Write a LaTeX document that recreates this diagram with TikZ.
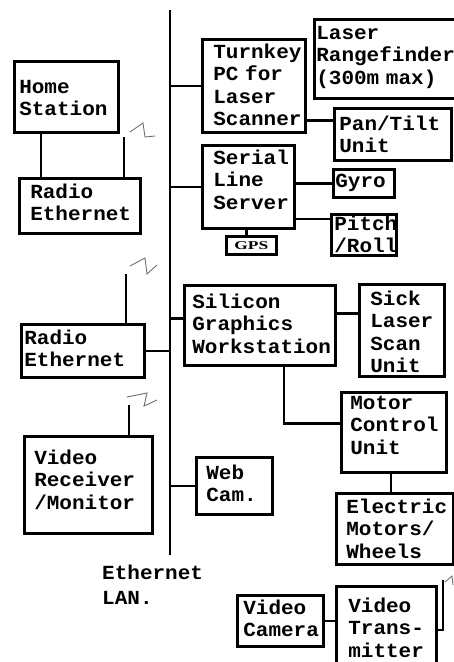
\documentclass[tikz,border=0pt]{standalone}
\usepackage{fontspec}
\newfontfamily\boxfont[FakeStretch=1.05]{Liberation Mono}
\newfontfamily\gpsfont{Liberation Serif}
\usetikzlibrary{calc}
\definecolor{Wave}{HTML}{6E6E6E}
\hyphenpenalty=10000
\exhyphenpenalty=10000

\begin{document}
\begin{tikzpicture}[x=1pt,y=-1pt,
  unit/.style={draw,line width=2.6pt,anchor=north west,inner ysep=0pt,align=left,
    font=\boxfont\bfseries\fontsize{20}{22.5}\selectfont},
  wire/.style={line width=2.6pt},
  wave/.style={Wave,line width=0.9pt}]
  \useasboundingbox (0,0) rectangle (454,662);
  \foreach \nm/\x/\y/\w/\ins/\tht/\tdp/\txt in {
    home/13/60/104/5/32/39/{Home\\Station},
    radio1/18/177/121/11/20/35/{Radio\\Ethernet},
    turnkey/201/38/103/11/19/74/{Turnkey\\PC for\\Laser\\Scanner},
    ranger/313/18/141/2/20/59/{Laser\\Rangefinder\\(300m max)},
    pantilt/333/107/117/5/22/30/{Pan/Tilt\\Unit},
    serial/201/144/92/11/19/64/{Serial\\Line\\Server},
    gyro/332/168/61/2/18/10/{Gyro},
    pitch/330/213/65/3/16/25/{Pitch\\/Roll},
    sgi/183/284/151/8/23/57/{Silicon\\Graphics\\Workstation},
    sick/358/283/85/11/21/71/{Sick\\Laser\\Scan\\Unit},
    mcu/340/391/105/9/17/63/{Motor\\Control\\Unit},
    webcam/195/456/76/10/22/35/{Web\\Cam.},
    motors/335/492/117/10/20/51/{Electric\\Motors/\\Wheels},
    radio2/20/323/123/3/20/33/{Radio\\Ethernet},
    receiver/23/435/128/10/28/69/{Video\\Receiver\\/Monitor},
    camera/236/594/86/6/19/32/{Video\\Camera},
    transmitter/335/585/100/12/26/69/{Video\\Trans-\\mitter}} {
    \pgfmathsetmacro\tw{\w-2*\ins}
    \node[unit,inner xsep=\ins pt,text width=\tw pt,text height=\tht pt,text depth=\tdp pt] (\nm) at (\x,\y) {\txt};
  }
  \node[draw,line width=2.6pt,minimum width=50pt,minimum height=18pt,inner sep=0pt,anchor=north west,
    font=\gpsfont\bfseries\fontsize{12}{12}\selectfont] (gps) at (225,235) {\scalebox{1.45}[1]{GPS}};
  \node[anchor=north west,inner sep=0pt,align=left,text width=130pt,text height=15pt,
    font=\boxfont\bfseries\fontsize{20}{25}\selectfont] (lan) at (102,564) {Ethernet\\LAN.};

  \coordinate (bustop) at (170,10);
  \coordinate (busend) at (170,555);
  \draw[wire] (bustop) -- (busend);
  \draw[wire] (turnkey.west) -- (turnkey.west -| bustop);
  \draw[wire] (serial.west) -- (serial.west -| bustop);
  \draw[wire] ([yshift=7pt]sgi.west) -- ([yshift=7pt]sgi.west -| bustop);
  \draw[wire] (radio2.east) -- (radio2.east -| bustop);
  \draw[wire] (webcam.west) -- (webcam.west -| bustop);

  \draw[wire] ([yshift=14pt]pantilt.west) -- ([yshift=14pt]pantilt.west -| turnkey.east);
  \draw[wire] (gyro.west) -- (gyro.west -| serial.east);
  \draw[wire] ([yshift=16pt]pitch.west) -- ([yshift=16pt]pitch.west -| serial.east);
  \draw[wire] ([xshift=-5pt]gps.north) -- ([xshift=-5pt]gps.north |- serial.south);
  \draw[wire] ([yshift=17pt]sick.west) -- ([yshift=17pt]sick.west -| sgi.east);
  \draw[wire] ([xshift=24pt]sgi.south) |- ([yshift=9pt]mcu.west);
  \draw[wire] ([xshift=-3pt]mcu.south) -- ([xshift=-3pt]mcu.south |- motors.north);
  \draw[wire] (camera.east) -- (camera.east -| transmitter.west);

  \coordinate (hs) at ([xshift=28pt]home.south west);
  \draw[wire] (hs) -- (hs |- radio1.north);

  \coordinate (ant1) at (124,137);
  \coordinate (ant2) at (126,274);
  \coordinate (ant3) at (129,405);
  \coordinate (ant4) at (443,580);
  \draw[wire] (ant1) -- (ant1 |- radio1.north);
  \draw[wire] (ant2) -- (ant2 |- radio2.north);
  \draw[wire] (ant3) -- (ant3 |- receiver.north);
  \draw[wire] ([yshift=4pt]transmitter.east) -| (ant4);
  \draw[wave] (ant1) ++(6,-5) -- ++(13,-9) -- ++(2,14) -- ++(10,-1);
  \draw[wave] (ant2) ++(4,-8) -- ++(15,-8) -- ++(2,16) -- ++(10,-9);
  \draw[wave] (ant3) ++(-2,-8) -- ++(20,-4) -- ++(-3,13) -- ++(13,-6);
  \draw[wave] (ant4) ++(2,2) -- ++(7,-6) -- ++(1,9);
\end{tikzpicture}
\end{document}
